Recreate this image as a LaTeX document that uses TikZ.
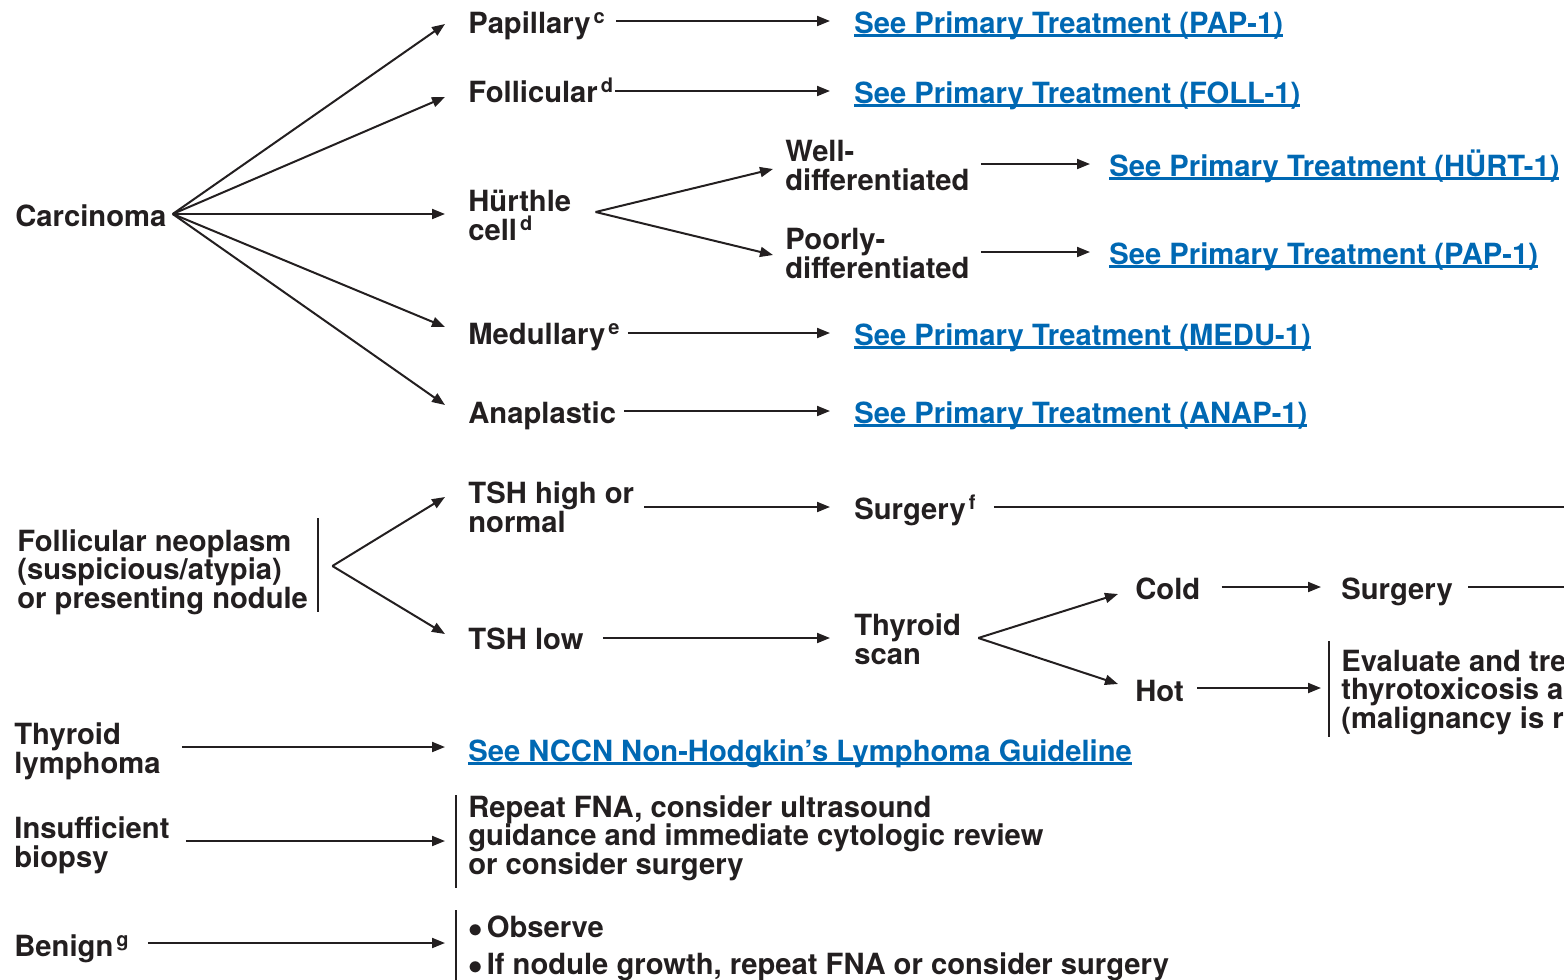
\documentclass[tikz,border=0pt]{standalone}
\usepackage{fontspec}
\setmainfont{TeX Gyre Heros}
\usepackage{xcolor}
\definecolor{nccnblue}{HTML}{0068B3}
\definecolor{nccnink}{HTML}{231F20}
\usepackage{tikz}
\usetikzlibrary{arrows.meta,positioning}

\newsavebox\linkbox
\newcommand\linkline[1]{\sbox\linkbox{#1}\rlap{\rule[-1.9pt]{\wd\linkbox}{1.2pt}}\usebox\linkbox}
\newcommand\supnote[1]{\kern1.5pt\raisebox{5pt}{\fontsize{10}{10}\selectfont #1}}
\newcommand\nodefont{\fontsize{14.6}{14.2}\selectfont\bfseries\lineskiplimit=-20pt\relax}

\begin{document}
\begin{tikzpicture}[
  x=0.5pt,y=-0.5pt,
  every node/.style={anchor=base west,inner sep=0pt,align=left,text=nccnink,font=\nodefont},
  link/.style={text=nccnblue},
  arr/.style={-{Triangle[length=6.5pt,width=5pt]},line width=1pt,draw=nccnink},
  rule/.style={line width=1pt,draw=nccnink},
]
\useasboundingbox (0,0) rectangle (1564,980);

% Carcinoma
\node (carc) at (15,226) {Carcinoma};
\node (pap) at (468,33) {Papillary\supnote{c}};
\node (foll) at (468,102) {Follicular\supnote{d}};
\node (hurt) at (468,240) {Hürthle\\cell\supnote{d}};
\node (medu) at (468,344) {Medullary\supnote{e}};
\node (anap) at (468,423) {Anaplastic};
\node (well) at (785,190) {Well-\\differentiated};
\node (poor) at (785,278) {Poorly-\\differentiated};

\node[link] (lpap) at (854,33) {\linkline{See Primary Treatment (PAP-1)}};
\node[link] (lfoll) at (854,103) {\linkline{See Primary Treatment (FOLL-1)}};
\node[link] (lhurt) at (1109,176) {\linkline{See Primary Treatment (HÜRT-1)}};
\node[link] (lpap2) at (1109,264) {\linkline{See Primary Treatment (PAP-1)}};
\node[link] (lmedu) at (854,345) {\linkline{See Primary Treatment (MEDU-1)}};
\node[link] (lanap) at (854,423) {\linkline{See Primary Treatment (ANAP-1)}};

\draw[arr] ([shift={(6,-12)}]carc.base east) -- ([shift={(-23,-9)}]pap.base west);
\draw[arr] ([shift={(6,-12)}]carc.base east) -- ([shift={(-23,-5)}]foll.base west);
\draw[arr] ([shift={(6,-12)}]carc.base east) -- ([shift={(-23,-26)}]hurt.base west);
\draw[arr] ([shift={(6,-12)}]carc.base east) -- ([shift={(-23,-17)}]medu.base west);
\draw[arr] ([shift={(6,-12)}]carc.base east) -- ([shift={(-23,-18)}]anap.base west);

\draw[arr] ([shift={(11,-12)}]pap.base east) -- ([shift={(-24,-12)}]lpap.base west);
\draw[arr] ([shift={(2,-11)}]foll.base east) -- ([shift={(-24,-12)}]lfoll.base west);
\draw[arr] ([shift={(24,-28)}]hurt.base east) -- ([shift={(-12,-21)}]well.base west);
\draw[arr] ([shift={(24,-28)}]hurt.base east) -- ([shift={(-12,-23)}]poor.base west);
\draw[arr] ([shift={(11,-26)}]well.base east) -- ([shift={(-19,-12)}]lhurt.base west);
\draw[arr] ([shift={(11,-26)}]poor.base east) -- ([shift={(-19,-12)}]lpap2.base west);
\draw[arr] ([shift={(8,-11)}]medu.base east) -- ([shift={(-24,-12)}]lmedu.base west);
\draw[arr] ([shift={(8,-12)}]anap.base east) -- ([shift={(-24,-12)}]lanap.base west);

% Follicular neoplasm
\node (fneo) at (17,608) {Follicular neoplasm\\(suspicious/atypia)\\or presenting nodule};
\node (tshhi) at (468,532) {TSH high or\\normal};
\node (tshlo) at (468,649) {TSH low};
\node (surgf) at (854,519) {Surgery\supnote{f}};
\node (scan) at (854,664) {Thyroid\\scan};
\node (cold) at (1135,599) {Cold};
\node (hot) at (1135,701) {Hot};
\node (surg) at (1341,599) {Surgery};
\node (evalt) at (1341,728) {Evaluate and tre\\thyrotoxicosis a\\(malignancy is r};

\draw[rule] ([shift={(10,-90)}]fneo.base east) -- ([shift={(10,4)}]fneo.base east);
\draw[arr] ([shift={(24,-42)}]fneo.base east) -- ([shift={(-23,-35)}]tshhi.base west);
\draw[arr] ([shift={(24,-42)}]fneo.base east) -- ([shift={(-23,-15)}]tshlo.base west);
\draw[arr] ([shift={(10,-25)}]tshhi.base east) -- ([shift={(-24,-12)}]surgf.base west);
\draw[rule] ([shift={(18,-12)}]surgf.base east) -- ++(620,0);
\draw[arr] ([shift={(19,-11)}]tshlo.base east) -- ([shift={(-24,-26)}]scan.base west);
\draw[arr] ([shift={(17,-26)}]scan.base east) -- ([shift={(-17,-5)}]cold.base west);
\draw[arr] ([shift={(17,-26)}]scan.base east) -- ([shift={(-17,-17)}]hot.base west);
\draw[arr] ([shift={(21,-12)}]cold.base east) -- ([shift={(-20,-12)}]surg.base west);
\draw[rule] ([shift={(15,-12)}]surg.base east) -- ++(200,0);
\draw[arr] ([shift={(13,-13)}]hot.base east) -- ([shift={(-20,-40)}]evalt.base west);
\draw[rule] ([shift={(-12,-87)}]evalt.base west) -- ([shift={(-12,9)}]evalt.base west);

% Lymphoma, insufficient, benign
\node (lymph) at (14,773) {Thyroid\\lymphoma};
\node[link] (llymph) at (468,761) {\linkline{See NCCN Non-Hodgkin’s Lymphoma Guideline}};
\node (insuf) at (14,867) {Insufficient\\biopsy};
\node (repeat) at (468,874) {Repeat FNA, consider ultrasound\\guidance and immediate cytologic review\\or consider surgery};
\node (benign) at (14,956) {Benign\supnote{g}};
\node (obs) at (468,974) {$\bullet$\kern2pt Observe\\[4pt]$\bullet$\kern2pt If nodule growth, repeat FNA or consider surgery};

\draw[arr] ([shift={(21,-26)}]lymph.base east) -- ([shift={(-23,-14)}]llymph.base west);
\draw[arr] ([shift={(16,-26)}]insuf.base east) -- ([shift={(-23,-33)}]repeat.base west);
\draw[rule] ([shift={(-12,-79)}]repeat.base west) -- ([shift={(-12,14)}]repeat.base west);
\draw[arr] ([shift={(19,-13)}]benign.base east) -- ([shift={(-23,-31)}]obs.base west);
\draw[rule] ([shift={(-12,-64)}]obs.base west) -- ([shift={(-12,10)}]obs.base west);
\end{tikzpicture}
\end{document}
